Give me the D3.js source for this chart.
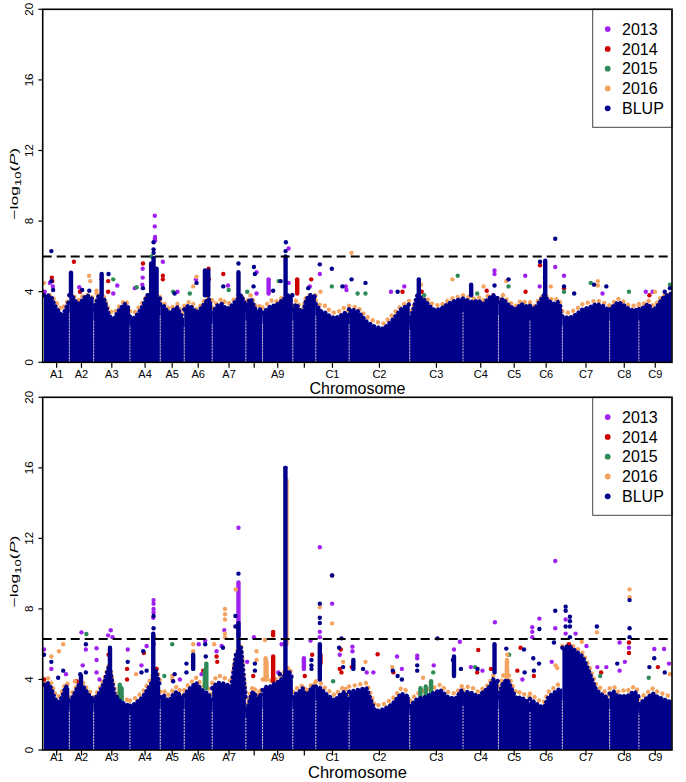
<!DOCTYPE html>
<html><head><meta charset="utf-8">
<script src="https://cdn.jsdelivr.net/npm/d3@7"></script>
<style>body{margin:0;background:#fff}svg{display:block}</style>
</head><body>
<svg id="chart" width="686" height="782"></svg>
<script>
// ---------------- DATA ----------------
const chromNames = ["A1","A2","A3","A4","A5","A6","A7","A8","A9","A10","C1","C2","C3","C4","C5","C6","C7","C8","C9"];
// relative marker span of each chromosome (x extent in the plot)
const chromLen = [25.3,24.4,36.3,30.3,24.0,28.0,33.7,16.7,30.3,23.0,33.3,60.7,53.3,35.4,31.6,32.4,47.3,29.3,32.7];
const hiddenTickLabels = ["A8","A10"];
const yTicks = [0,4,8,12,16,20];
const seriesNames = ["2013","2014","2015","2016","BLUP"];
const thresholds = [6.0, 6.3];

// upper edge of the dense BLUP point mass, 8 samples across each chromosome
const topMass = [
 [3.8,3.8,3.7,3.2,2.9,2.6,3.0,3.5],[3.8,3.7,3.4,3.3,3.6,3.8,3.7,3.5],[3.0,3.8,3.6,2.6,2.5,3.0,3.3,3.0],
 [2.6,2.5,2.8,3.2,3.8,3.8,3.8,3.6],[3.3,3.2,2.9,2.8,3.0,3.1,2.7,2.5],[3.0,3.2,3.1,2.8,3.0,3.3,3.6,3.4],
 [2.8,3.2,3.3,3.0,3.2,3.5,3.8,3.2],[3.0,3.4,3.6,3.3,3.0,2.8,3.0,2.8],[2.8,3.0,3.2,3.2,3.4,3.6,3.8,3.8],
 [3.0,3.3,3.0,2.7,3.5,3.8,3.8,3.7],[3.3,2.9,2.8,2.6,2.5,2.6,2.8,2.7],[3.0,2.9,2.3,2.0,1.9,2.4,3.0,3.3],
 [2.3,3.8,3.5,3.0,3.0,3.3,3.5,3.6],[3.6,3.5,3.4,3.5,3.3,3.6,3.8,3.6],[3.4,3.6,3.3,3.1,3.0,3.3,3.2,3.0],
 [3.2,3.0,3.4,3.8,3.5,3.3,3.4,3.0],[2.6,2.5,2.7,3.0,3.1,3.3,3.2,2.9],[3.0,3.2,3.4,3.3,3.1,3.0,2.9,3.1],
 [3.0,3.1,3.3,2.9,3.2,3.6,3.8,3.9]];
const botMass = [
 [3.7,3.8,3.5,2.9,2.7,3.0,3.6,3.5],[2.8,3.0,3.4,3.8,3.6,3.3,3.0,2.9],[2.8,3.2,3.8,4.8,3.2,2.8,2.6,2.5],
 [2.5,2.6,2.8,3.0,3.4,3.8,4.5,3.6],[3.0,3.1,2.8,2.9,3.2,3.3,3.0,2.9],[3.1,3.4,3.6,3.8,3.5,3.3,3.2,2.8],
 [3.5,3.8,3.8,3.7,3.6,5.5,5.8,2.8],[2.3,2.5,3.0,3.3,3.1,2.6,3.2,3.0],[3.4,3.6,3.6,3.8,3.9,4.2,4.5,4.0],
 [3.0,3.2,3.3,3.5,3.0,3.3,3.6,3.5],[3.6,3.5,3.2,3.0,2.8,3.1,3.3,2.8],[3.3,3.4,3.5,2.2,2.3,2.6,3.2,3.0],
 [2.5,2.9,3.0,3.2,3.4,3.0,2.9,3.5],[3.2,3.3,3.2,3.0,3.3,3.5,4.0,3.9],[3.0,3.8,4.0,3.4,2.9,3.0,2.8,2.7],
 [2.9,2.7,2.5,2.4,3.0,3.2,3.4,3.5],[5.8,5.9,5.6,5.3,4.4,3.4,3.1,2.9],[3.2,3.3,3.0,3.1,3.0,3.2,3.3,3.0],
 [2.6,2.8,3.0,3.2,3.0,2.9,2.8,2.7]];
// upper edge of the yearly (mostly 2016) points seen just above the BLUP mass
const topFringe = [
 [3.8,3.8,3.8,3.5,3.2,3.0,3.3,3.6],[3.8,3.8,3.6,3.5,3.8,3.8,3.8,3.6],[3.2,3.8,3.7,2.9,2.8,3.2,3.5,3.2],
 [2.9,2.8,3.1,3.4,3.8,3.8,3.8,3.7],[3.5,3.4,3.1,3.0,3.2,3.3,2.9,2.8],[3.2,3.4,3.4,3.0,3.2,3.5,3.7,3.5],
 [3.1,3.4,3.6,3.3,3.4,3.7,3.8,3.4],[3.2,3.6,3.8,3.5,3.2,3.1,3.2,3.0],[3.1,3.3,3.5,3.4,3.6,3.7,3.8,3.8],
 [3.2,3.5,3.2,3.0,3.7,3.8,3.8,3.8],[3.5,3.2,3.2,2.9,2.8,2.9,3.1,2.9],[3.2,3.1,2.6,2.3,2.2,2.7,3.2,3.5],
 [2.6,3.8,3.7,3.3,3.2,3.5,3.7,3.7],[3.8,3.7,3.6,3.7,3.5,3.8,3.8,3.8],[3.6,3.8,3.5,3.3,3.2,3.5,3.4,3.2],
 [3.4,3.2,3.6,3.8,3.7,3.5,3.6,3.2],[2.9,2.8,3.0,3.3,3.4,3.5,3.4,3.2],[3.2,3.4,3.6,3.5,3.3,3.2,3.2,3.3],
 [3.2,3.3,3.5,3.2,3.4,3.8,3.8,3.9]];
const botFringe = [
 [3.9,4.1,3.8,3.2,3.0,3.3,3.8,3.7],[3.0,3.3,3.6,3.9,3.8,3.5,3.3,3.1],[3.0,3.4,4.0,4.9,3.5,3.1,2.9,2.8],
 [2.8,2.9,3.1,3.3,3.7,4.1,4.7,3.9],[3.3,3.4,3.1,3.2,3.5,3.6,3.3,3.1],[3.4,3.7,3.9,4.1,3.8,3.6,3.5,3.0],
 [3.8,4.2,4.2,4.0,3.9,5.6,5.9,3.1],[2.6,2.8,3.3,3.6,3.4,2.9,3.5,3.3],[4.0,4.2,3.9,4.0,4.1,4.4,4.7,4.2],
 [3.3,3.5,3.5,3.7,3.3,3.5,3.8,3.7],[3.9,3.8,3.5,3.3,3.1,3.4,3.6,3.1],[3.6,3.7,3.8,2.5,2.6,2.9,3.5,3.3],
 [2.8,3.2,3.4,3.5,3.7,3.3,3.2,3.7],[3.4,3.6,3.5,3.3,3.5,3.7,4.2,4.1],[3.3,4.2,4.5,3.7,3.2,3.3,3.1,3.0],
 [3.2,3.0,2.8,2.7,3.3,3.5,3.7,3.8],[5.9,6.0,5.8,5.5,4.7,3.7,3.4,3.1],[3.5,3.6,3.3,3.4,3.3,3.5,3.6,3.3],
 [2.9,3.1,3.3,3.5,3.3,3.2,3.1,3.0]];

// dense vertical runs of points: [chromosome, position (0-1), low, high, series]
const topRuns = [
 ["A9",0.2,3.9,4.7,"2013"],["A10",0.19,3.9,4.7,"2014"],
 ["A2",0.07,3.8,5.07,"BLUP"],["A3",0.22,3.8,5.0,"BLUP"],["A4",0.7,3.8,5.6,"BLUP"],["A4",0.78,3.8,5.9,"BLUP"],
 ["A4",0.88,3.8,5.3,"BLUP"],["A6",0.74,3.8,5.2,"BLUP"],["A6",0.86,3.8,5.2,"BLUP"],["A7",0.78,3.8,5.1,"BLUP"],
 ["A9",0.76,3.8,6.0,"BLUP"],["C3",0.17,3.8,4.7,"BLUP"],["C4",0.23,3.8,4.4,"BLUP"],["C6",0.47,3.8,5.75,"BLUP"]];
const botRuns = [
 ["A7",0.78,6.5,9.5,"2013"],["A10",0.48,4.6,5.2,"2013"],
 ["A9",0.35,3.9,5.3,"2014"],["C1",0.14,4.9,5.4,"2014"],
 ["A3",0.72,2.9,3.7,"2015"],["A3",0.77,2.8,3.5,"2015"],["A6",0.79,3.5,4.9,"2015"],["A6",0.74,3.6,4.5,"2015"],
 ["C3",0.2,3.0,3.5,"2015"],["C3",0.3,3.0,3.6,"2015"],["C3",0.4,3.3,3.9,"2015"],
 ["A9",0.1,4.0,5.2,"2016"],["A9",0.13,4.0,5.0,"2016"],["C5",0.27,4.0,5.1,"2016"],["A9",0.79,6.0,15.3,"2016"],
 ["A2",0.48,3.8,4.2,"BLUP"],["A3",0.45,3.8,5.8,"BLUP"],["A4",0.77,3.8,6.6,"BLUP"],["A6",0.32,4.6,5.4,"BLUP"],
 ["A7",0.78,5.8,7.2,"BLUP"],["A9",0.755,4.0,16.0,"BLUP"],["C1",0.12,4.0,6.0,"BLUP"],["C2",0.07,4.6,5.1,"BLUP"],
 ["C3",0.83,4.2,5.3,"BLUP"],["C4",0.89,4.4,6.0,"BLUP"]];

// single points: [chromosome, position (0-1), -log10(P)]
const top2013 = [["A1",0.23,4.5],["A1",0.03,4.0],["A1",0.35,4.3],["A2",0.41,4.25],["A3",0.65,4.35],["A3",0.54,3.9],
 ["A4",0.82,8.3],["A4",0.82,7.7],["A4",0.83,7.1],["A4",0.82,7.0],["A4",0.83,6.9],["A4",0.42,5.3],["A4",0.42,4.8],
 ["A4",0.41,4.4],["A4",0.16,4.2],["A4",0.79,5.0],["A4",0.85,4.6],["A5",0.11,5.7],["A5",0.72,4.0],["A6",0.42,4.7],
 ["A6",0.75,4.6],["A7",0.47,4.35],["A8",0.64,5.1],["A8",0.64,3.9],["A9",0.86,6.45],["A9",0.86,4.5],["A10",0.74,4.3],
 ["C1",0.12,5.0],["C1",0.92,4.1],["C1",0.9,4.3],["C2",0.91,4.3],["C2",0.69,4.0],["C4",0.89,5.2],["C4",0.89,5.0],
 ["C5",0.85,4.9],["C6",0.3,4.3],["C6",0.78,5.4],["C6",0.46,4.8],["C6",0.46,4.5],["C7",0.035,4.9],["C7",0.85,3.9],
 ["C9",0.21,4.0],["C9",0.42,4.0]];
const top2014 = [["A1",0.31,4.8],["A1",0.33,4.6],["A2",0.19,5.7],["A2",0.07,4.95],["A2",0.44,4.0],["A3",0.22,4.7],
 ["A3",0.4,4.6],["A3",0.4,4.0],["A4",0.43,5.6],["A5",0.11,4.9],["A5",0.11,4.7],["A6",0.87,5.3],["A6",0.88,4.7],
 ["A7",0.33,5.0],["A10",0.8,4.7],["C2",0.88,4.0],["C3",0.225,4.0],["C4",0.67,4.05],["C5",0.86,4.0],["C6",0.31,5.5],
 ["C7",0.035,4.2],["C9",0.32,3.8]];
const top2015 = [["A3",0.54,4.7],["A4",0.22,4.25],["A4",0.71,6.0],["A5",0.54,4.0],["A6",0.2,3.9],["A7",0.49,4.1],
 ["A8",0.08,4.0],["A9",0.53,4.6],["C1",0.48,4.3],["C2",0.14,3.9],["C2",0.27,3.9],["C3",0.9,4.9],["C3",0.27,3.8],
 ["C4",0.4,3.9],["C5",0.32,4.3],["C7",0.035,4.0],["C7",0.6,4.5],["C8",0.66,4.0],["C9",0.95,4.4]];
const top2016 = [["A1",0.0,4.5],["A2",0.81,4.9],["A2",0.86,4.6],["A3",0.08,4.06],["A3",0.08,3.9],["A6",0.32,4.3],
 ["A6",0.44,4.85],["C1",0.14,4.0],["C2",0.04,6.2],["C3",0.21,4.4],["C3",0.8,4.7],["C4",0.58,4.3],["C5",0.25,4.6],
 ["C6",0.64,4.3],["C7",0.75,4.6],["C7",0.75,4.35],["C9",0.49,4.0]];
const topBLUP = [["A1",0.29,6.3],["A1",0.29,4.6],["A1",0.36,4.1],["A2",0.53,4.1],["A2",0.82,4.05],["A3",0.41,5.0],
 ["A4",0.43,4.2],["A4",0.78,6.8],["A4",0.78,6.4],["A4",0.78,6.2],["A5",0.6,3.9],["A6",0.44,4.5],["A7",0.33,4.3],
 ["A7",0.78,5.6],["A8",0.48,5.4],["A8",0.54,5.0],["A8",0.46,4.3],["A9",0.35,4.05],["A9",0.6,4.6],["A9",0.77,6.8],
 ["A9",0.76,6.3],["A10",0.67,4.2],["C1",0.12,5.55],["C1",0.48,5.3],["C1",0.8,4.3],["C2",0.04,4.7],["C2",0.27,4.5],
 ["C2",0.8,4.0],["C4",0.89,4.35],["C5",0.32,4.7],["C6",0.31,5.7],["C6",0.78,7.0],["C7",0.035,4.3],["C7",0.25,3.9],
 ["C7",0.67,4.4],["C7",0.93,4.3],["C9",0.79,4.0],["C9",0.95,4.2]];

const bot2013 = [["A1",0.0,5.7],["A1",0.29,4.6],["A1",0.87,4.3],["A2",0.5,6.67],["A2",0.55,4.8],["A2",0.68,5.7],
 ["A3",0.08,5.77],["A3",0.08,5.1],["A3",0.08,4.4],["A3",0.16,4.0],["A3",0.47,6.79],["A3",0.4,6.5],["A3",0.52,6.4],
 ["A3",0.94,5.7],["A4",0.38,4.8],["A4",0.55,5.9],["A4",0.78,8.5],["A4",0.78,8.3],["A4",0.78,8.0],["A4",0.78,7.8],
 ["A4",0.77,7.5],["A4",0.78,6.0],["A5",0.82,4.0],["A6",0.52,6.0],["A6",0.75,6.2],["A6",0.62,4.3],["A7",0.13,5.6],
 ["A7",0.28,5.9],["A7",0.36,6.8],["A7",0.78,12.6],["A8",0.48,6.4],["A8",0.08,5.0],["A9",0.52,4.4],["A9",0.63,6.0],
 ["A10",0.77,6.2],["C1",0.12,11.5],["C1",0.12,6.7],["C1",0.12,6.4],["C1",0.49,8.3],["C1",0.72,5.4],["C2",0.055,5.86],
 ["C2",0.055,5.6],["C2",0.29,4.4],["C2",0.4,4.4],["C2",0.79,5.3],["C2",0.87,4.6],["C3",0.14,5.35],["C3",0.14,5.2],
 ["C3",0.45,4.8],["C3",0.94,6.14],["C3",0.83,5.7],["C4",0.22,4.7],["C4",0.55,4.5],["C4",0.9,7.24],["C5",0.76,4.0],
 ["C6",0.07,6.96],["C6",0.07,6.7],["C6",0.07,6.4],["C6",0.29,7.45],["C6",0.78,10.72],["C6",0.78,6.9],["C6",0.67,5.0],
 ["C7",0.07,7.4],["C7",0.07,6.6],["C7",0.28,6.6],["C7",0.51,5.9],["C7",0.74,4.7],["C7",0.93,4.7],["C8",0.34,6.1],
 ["C8",0.34,4.5],["C8",0.66,5.8],["C8",0.52,5.0],["C9",0.47,5.73],["C9",0.77,5.73],["C9",0.92,4.9]];
const bot2014 = [["A1",0.0,4.0],["A2",0.3,3.9],["A3",0.41,5.4],["A3",0.92,4.6],["A3",0.92,4.0],["A4",0.46,5.5],
 ["A4",0.88,4.6],["A6",0.68,4.5],["A7",0.13,5.3],["A7",0.15,5.0],["A8",0.44,4.2],["A9",0.35,6.7],["A9",0.35,6.6],
 ["A9",0.35,6.5],["A10",0.52,4.2],["A10",0.84,5.4],["C1",0.49,9.9],["C1",0.75,5.7],["C1",0.77,4.4],["C1",0.72,4.6],
 ["C2",0.044,4.7],["C2",0.47,5.43],["C2",0.73,4.4],["C4",0.43,5.67],["C4",0.4,4.4],["C4",0.79,4.6],["C5",0.7,5.8],
 ["C5",0.6,4.5],["C6",0.12,4.2],["C7",0.14,6.0],["C7",0.82,4.4],["C8",0.66,6.1],["C8",0.66,5.5],["C9",0.58,4.7]];
const bot2015 = [["A2",0.7,6.58],["A5",0.5,6.0],["A5",0.17,4.2],["C1",0.52,3.9],["C3",0.44,4.4],["C4",0.34,4.7],
 ["C5",0.34,5.4],["C7",0.8,4.2],["C9",0.3,4.1]];
const bot2016 = [["A1",0.29,5.3],["A1",0.59,5.6],["A1",0.76,6.0],["A2",0.23,3.9],["A4",0.2,4.3],["A4",0.8,6.4],
 ["A5",0.5,4.2],["A5",0.5,4.0],["A6",0.32,6.0],["A6",0.32,5.6],["A7",0.06,6.0],["A7",0.38,8.0],["A7",0.38,7.7],
 ["A7",0.38,7.4],["A7",0.38,6.6],["A7",0.38,6.4],["A7",0.7,9.1],["A8",0.64,5.6],["A8",0.64,5.1],["A9",0.08,6.24],
 ["C1",0.12,8.1],["C1",0.49,7.18],["C1",0.82,5.0],["C2",0.27,5.0],["C2",0.71,4.7],["C3",0.25,4.1],["C5",0.28,5.4],
 ["C6",0.79,4.8],["C6",0.84,4.65],["C7",0.41,6.14],["C7",0.73,6.67],["C8",0.68,9.11],["C8",0.68,8.66],["C9",0.95,4.3]];
const botBLUP = [["A1",0.0,5.4],["A1",0.29,5.0],["A1",0.76,4.5],["A1",0.56,4.1],["A2",0.68,6.0],["A2",0.68,4.4],
 ["A2",0.45,4.3],["A3",0.94,5.0],["A4",0.38,4.4],["A4",0.44,5.6],["A4",0.55,4.5],["A4",0.78,7.6],["A4",0.78,6.9],
 ["A5",0.54,3.9],["A5",0.6,4.3],["A6",0.08,4.9],["A6",0.08,4.4],["A6",0.75,6.0],["A6",0.77,5.3],["A7",0.32,5.8],
 ["A7",0.69,7.6],["A7",0.69,7.0],["A7",0.78,10.0],["A8",0.54,4.9],["A8",0.54,4.5],["A9",0.57,4.3],["A9",0.755,16.0],
 ["A10",0.81,5.1],["A10",0.81,4.8],["A10",0.81,4.6],["C1",0.12,8.3],["C1",0.12,7.5],["C1",0.12,7.2],["C1",0.49,9.9],
 ["C1",0.77,6.33],["C1",0.7,5.8],["C1",0.82,4.7],["C2",0.23,4.6],["C2",0.72,4.5],["C2",0.8,4.2],["C2",0.87,4.0],
 ["C3",0.14,4.8],["C3",0.14,4.5],["C3",0.52,6.33],["C3",0.81,5.1],["C3",0.96,4.6],["C4",0.41,4.6],["C5",0.25,5.75],
 ["C5",0.81,5.7],["C5",0.83,4.4],["C6",0.1,5.2],["C6",0.12,4.5],["C6",0.29,6.86],["C6",0.28,4.9],["C6",0.78,7.9],
 ["C6",0.74,6.1],["C7",0.07,8.13],["C7",0.07,7.9],["C7",0.07,7.0],["C7",0.16,7.56],["C7",0.16,7.3],["C7",0.16,7.0],
 ["C7",0.16,6.4],["C7",0.73,7.0],["C8",0.26,4.9],["C8",0.68,8.5],["C8",0.68,6.9],["C8",0.68,6.4],["C9",0.47,5.2],
 ["C9",0.32,4.7],["C9",0.79,4.4]];

// ---------------- STYLE / LAYOUT ----------------
const colors = {"2013":"#A020F0","2014":"#CD0000","2015":"#2E8B57","2016":"#F4A460","BLUP":"#00008B"};
const FONT = "'Liberation Sans', Arial, Helvetica, sans-serif";
const boxL = 42.7, boxR = 672;
const panels = [
  {top:9.3, bottom:362.3, thr:thresholds[0], mass:topMass, fringe:topFringe, runs:topRuns,
   pts:{"2013":top2013,"2014":top2014,"2015":top2015,"2016":top2016,"BLUP":topBLUP}, tickBase:378.3, titleBase:394, titleSize:16},
  {top:397.3, bottom:750, thr:thresholds[1], mass:botMass, fringe:botFringe, runs:botRuns,
   pts:{"2013":bot2013,"2014":bot2014,"2015":bot2015,"2016":bot2016,"BLUP":botBLUP}, tickBase:760.5, titleBase:777.5, titleSize:16.5}
];
const R = 2.2;

const svg = d3.select("#chart");
const offsets = [0]; chromLen.forEach((l,i)=>offsets.push(offsets[i]+l));
const total = offsets[offsets.length-1];
const x = d3.scaleLinear().domain([0,total]).range([44,671.6]);
const idx = {}; chromNames.forEach((c,i)=>idx[c]=i);
const xp = (c,f) => x(offsets[idx[c]] + f*chromLen[idx[c]]);

panels.forEach(p => {
  const y = d3.scaleLinear().domain([0,20]).range([p.bottom,p.top]);
  const g = svg.append("g");
  const clipId = "clip"+Math.round(p.top);
  svg.append("clipPath").attr("id",clipId).append("rect")
     .attr("x",boxL).attr("y",p.top).attr("width",boxR-boxL).attr("height",p.bottom-p.top);
  const plot = g.append("g").attr("clip-path",`url(#${clipId})`);

  const sx = (vals,i,j) => x(offsets[i] + j/(vals.length-1)*chromLen[i]);
  const envArea = (vals,i) => d3.area().x((v,j)=>sx(vals,i,j)).y0(p.bottom).y1(v=>y(v))(vals);
  const envLine = (vals,i) => d3.line().x((v,j)=>sx(vals,i,j)).y(v=>y(v))(vals);

  // yearly points hugging the BLUP mass (row of dots along the edge)
  p.fringe.forEach((vals,i)=>{
    plot.append("path").attr("d",envLine(vals,i)).attr("fill","none").attr("stroke",colors["2016"])
      .attr("stroke-width",2*R).attr("stroke-linecap","round").attr("stroke-dasharray","0.1,5.6");
  });
  const drawRuns = s => plot.selectAll(null).data(p.runs.filter(r=>r[4]===s)).enter().append("rect")
      .attr("x",d=>xp(d[0],d[1])-R).attr("width",2*R)
      .attr("y",d=>y(d[3])-R).attr("height",d=>y(d[2])-y(d[3])+2*R)
      .attr("rx",R).attr("fill",colors[s]);
  const drawPts = s => plot.selectAll(null).data(p.pts[s]).enter().append("circle")
      .attr("cx",d=>xp(d[0],d[1])).attr("cy",d=>y(d[2])).attr("r",R).attr("fill",colors[s]);
  ["2013","2014","2015","2016"].forEach(s=>{drawRuns(s); drawPts(s);});
  // BLUP dense mass, with a point-like scalloped upper edge
  p.mass.forEach((vals,i)=>{
    plot.append("path").attr("d",envArea(vals,i)).attr("fill",colors.BLUP);
    plot.append("path").attr("d",envLine(vals,i)).attr("fill","none").attr("stroke",colors.BLUP)
      .attr("stroke-width",2*R).attr("stroke-linecap","round").attr("stroke-dasharray","0.1,4.4");
  });
  // chromosome boundary gaps
  for(let i=1;i<chromNames.length;i++){
    const h = Math.min(p.mass[i-1][p.mass[i-1].length-1], p.mass[i][0]);
    plot.append("line").attr("x1",x(offsets[i])).attr("x2",x(offsets[i]))
      .attr("y1",p.bottom).attr("y2",y(h*0.8)).attr("stroke","#c9b9cf").attr("stroke-width",1)
      .attr("stroke-dasharray","2,1");
  }
  drawRuns("BLUP"); drawPts("BLUP");

  // threshold
  g.append("line").attr("x1",boxL).attr("x2",boxR).attr("y1",y(p.thr)).attr("y2",y(p.thr))
    .attr("stroke","#000").attr("stroke-width",2).attr("stroke-dasharray","9,5");

  // y axis
  yTicks.forEach(t=>{
    g.append("line").attr("x1",boxL-4.3).attr("x2",boxL).attr("y1",y(t)).attr("y2",y(t))
      .attr("stroke","#000").attr("stroke-width",1.2);
    g.append("text").attr("transform",`translate(32.7,${y(t)}) rotate(-90)`)
      .attr("text-anchor","middle").attr("font-family",FONT).attr("font-size",11.5).text(t);
  });
  // y title
  const cy = (p.top+p.bottom)/2 - 2;
  const tt = g.append("text").attr("font-family",FONT).attr("font-size",11.5).attr("text-anchor","middle");
  tt.append("tspan").text("\u2212log");
  tt.append("tspan").attr("font-size",8.5).attr("dy",3).text("10");
  tt.append("tspan").attr("dy",-3).text("(");
  tt.append("tspan").attr("font-style","italic").text("P");
  tt.append("tspan").text(")");
  const len = tt.node().getComputedTextLength();
  tt.attr("transform",`translate(18.3,${cy}) rotate(-90) scale(${72/len},1)`);

  // x axis ticks
  chromNames.forEach((c,i)=>{
    const cx = x(offsets[i] + chromLen[i]/2);
    g.append("line").attr("x1",cx).attr("x2",cx).attr("y1",p.bottom).attr("y2",p.bottom+5.5)
      .attr("stroke","#000").attr("stroke-width",1.2);
    if(!hiddenTickLabels.includes(c))
      g.append("text").attr("x",cx).attr("y",p.tickBase).attr("text-anchor","middle")
        .attr("font-family",FONT).attr("font-size",11).text(c);
  });
  g.append("text").attr("x",357.5).attr("y",p.titleBase).attr("text-anchor","middle")
    .attr("font-family",FONT).attr("font-size",p.titleSize).text("Chromosome");

  // legend
  const lg = g.append("g");
  lg.append("rect").attr("x",592.7).attr("y",p.top).attr("width",boxR-592.7).attr("height",118)
    .attr("fill","#fff").attr("stroke","#444").attr("stroke-width",1);
  seriesNames.forEach((s,i)=>{
    const ly = p.top + 19.8 + i*19.8;
    lg.append("circle").attr("cx",607.7).attr("cy",ly).attr("r",2.9).attr("fill",colors[s]);
    lg.append("text").attr("x",622).attr("y",ly).attr("dy","0.36em").attr("font-family",FONT)
      .attr("font-size",16).text(s);
  });
  // frame
  g.append("rect").attr("x",boxL).attr("y",p.top).attr("width",boxR-boxL).attr("height",p.bottom-p.top)
    .attr("fill","none").attr("stroke","#000").attr("stroke-width",1.6);
});
</script>
</body></html>
